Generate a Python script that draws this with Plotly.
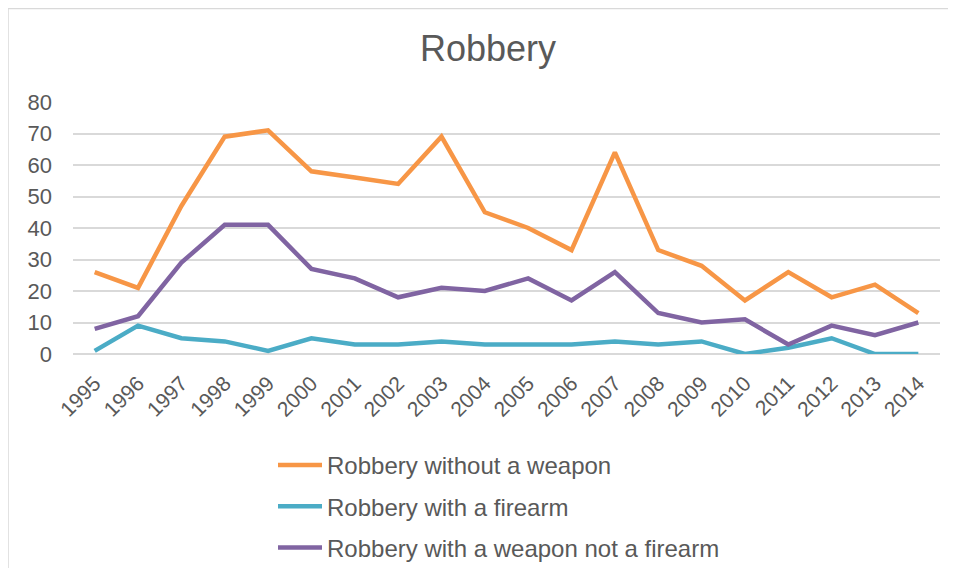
import plotly.graph_objects as go

years = [str(y) for y in range(1995, 2015)]
no_weapon = [26, 21, 47, 69, 71, 58, 56, 54, 69, 45, 40, 33, 64, 33, 28, 17, 26, 18, 22, 13]
firearm = [1, 9, 5, 4, 1, 5, 3, 3, 4, 3, 3, 3, 4, 3, 4, 0, 2, 5, 0, 0]
other_weapon = [8, 12, 29, 41, 41, 27, 24, 18, 21, 20, 24, 17, 26, 13, 10, 11, 3, 9, 6, 10]

names = ["Robbery without a weapon", "Robbery with a firearm", "Robbery with a weapon not a firearm"]
colors = ["#F79646", "#4BACC6", "#8064A2"]
series = [no_weapon, firearm, other_weapon]

fig = go.Figure()
for i, (n, c, s) in enumerate(zip(names, colors, series)):
    fig.add_trace(go.Scatter(x=years, y=s, name=n, mode="lines",
                             line=dict(color=c, width=4.5), legendgroup=str(i)))

# page body has an 8px margin, so figure coordinates are window coordinates minus 8;
# figure sized to fit inside the window without overflow
W, H = 940, 560
ml, mt = 65, 94
plot_right, plot_bottom = 932, 346
mr, mb = W - plot_right, H - plot_bottom
pw, ph = W - ml - mr, H - mt - mb

fig.update_layout(
    width=W, height=H,
    margin=dict(l=ml, r=mr, t=mt, b=mb, autoexpand=False),
    paper_bgcolor="white", plot_bgcolor="white",
    font=dict(family="Liberation Sans, Arial", color="#595959"),
    title=dict(text="Robbery", x=480 / W, xanchor="center", y=1 - 40 / H, yanchor="middle",
               font=dict(size=36, color="#595959")),
    xaxis=dict(type="category", range=[-0.5, 19.5], tickangle=-45, showgrid=False,
               tickfont=dict(size=21, color="#595959"), ticks="", showline=False,
               automargin=False, ticklabelstandoff=12),
    yaxis=dict(range=[0, 80], dtick=10, showgrid=True, gridcolor="#D9D9D9", gridwidth=1.5,
               zeroline=True, zerolinecolor="#D9D9D9", zerolinewidth=1.5,
               tickfont=dict(size=22, color="#595959"), ticks="", ticklen=0,
               automargin=False, ticklabelstandoff=20),
    legend=dict(xref="container", yref="container", x=265 / W, xanchor="left",
                y=1 - 435 / H, yanchor="top", itemwidth=44,
                orientation="v", font=dict(size=24, color="#595959"),
                tracegroupgap=7, bgcolor="rgba(0,0,0,0)"),
    showlegend=True,
)
fig.add_shape(type="rect", xref="paper", yref="paper",
              x0=-ml / pw, x1=1 + (mr + 20) / pw, y0=-(mb + 20) / ph, y1=1 + (mt - 0.5) / ph,
              line=dict(color="#D9D9D9", width=1.5), layer="below")
fig.write_html("out.html")
